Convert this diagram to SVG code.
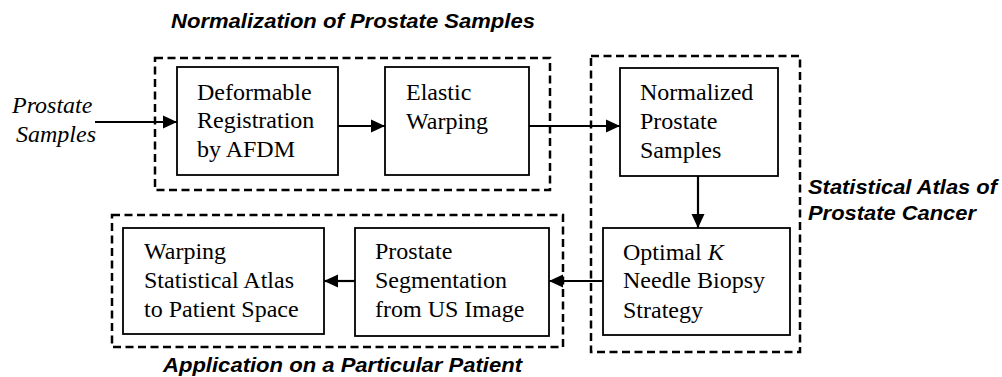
<svg xmlns="http://www.w3.org/2000/svg" width="1002" height="377" viewBox="0 0 1002 377">
<style>
.bg{fill:#fff}
.box{fill:#fff;stroke:#000;stroke-width:1.8}
.grp{fill:none;stroke:#000;stroke-width:2.5;stroke-dasharray:8 4.5}
.t{font-family:"Liberation Serif","Times New Roman",serif;font-size:24px;fill:#000}
.ti{font-family:"Liberation Serif","Times New Roman",serif;font-size:24px;font-style:italic;fill:#000}
.lab{font-family:"Liberation Sans",Arial,sans-serif;font-size:21px;font-weight:bold;font-style:italic;fill:#000}
.con{fill:none;stroke:#000;stroke-width:2.2}
</style>
<defs>
<marker id="ah" viewBox="0 0 14 14" refX="14" refY="7" markerWidth="14" markerHeight="14" markerUnits="userSpaceOnUse" orient="auto">
<path d="M0,0.5 L14,7 L0,13.5 z" fill="#000"/>
</marker>
</defs>
<rect class="bg" x="0" y="0" width="1002" height="377"/>
<g id="group-normalization">
<rect class="grp" x="155" y="58" width="395" height="132"/>
<text class="lab" x="171" y="28" textLength="364" lengthAdjust="spacingAndGlyphs">Normalization of Prostate Samples</text>
</g>
<g id="group-atlas">
<rect class="grp" x="591" y="56" width="209" height="296"/>
<text class="lab" x="808" y="194" textLength="189" lengthAdjust="spacingAndGlyphs">Statistical Atlas of</text>
<text class="lab" x="808" y="220" textLength="168" lengthAdjust="spacingAndGlyphs">Prostate Cancer</text>
</g>
<g id="group-application">
<rect class="grp" x="112" y="215" width="451" height="132"/>
<text class="lab" x="163" y="372" textLength="359" lengthAdjust="spacingAndGlyphs">Application on a Particular Patient</text>
</g>
<g id="input">
<text class="ti" x="12" y="113">Prostate</text>
<text class="ti" x="16" y="142">Samples</text>
</g>
<g id="node-registration">
<rect class="box" x="177" y="67" width="161" height="108"/>
<text class="t" x="197" y="100">Deformable</text>
<text class="t" x="197" y="128">Registration</text>
<text class="t" x="197" y="157">by AFDM</text>
</g>
<g id="node-warping">
<rect class="box" x="385" y="67" width="144" height="108"/>
<text class="t" x="406" y="100">Elastic</text>
<text class="t" x="406" y="129">Warping</text>
</g>
<g id="node-normalized">
<rect class="box" x="620" y="68" width="158" height="108"/>
<text class="t" x="640" y="100">Normalized</text>
<text class="t" x="640" y="129">Prostate</text>
<text class="t" x="640" y="158">Samples</text>
</g>
<g id="node-optimal">
<rect class="box" x="603" y="228" width="187" height="107"/>
<text class="t" x="623" y="260">Optimal <tspan font-style="italic">K</tspan></text>
<text class="t" x="623" y="288">Needle Biopsy</text>
<text class="t" x="623" y="318">Strategy</text>
</g>
<g id="node-segmentation">
<rect class="box" x="355" y="228" width="194" height="108"/>
<text class="t" x="375" y="259">Prostate</text>
<text class="t" x="375" y="288">Segmentation</text>
<text class="t" x="375" y="317">from US Image</text>
</g>
<g id="node-atlas-warping">
<rect class="box" x="123" y="228" width="201" height="106"/>
<text class="t" x="144" y="259">Warping</text>
<text class="t" x="144" y="288">Statistical Atlas</text>
<text class="t" x="144" y="317">to Patient Space</text>
</g>
<g id="connectors">
<line class="con" x1="95" y1="122" x2="177" y2="122" marker-end="url(#ah)"/>
<line class="con" x1="338" y1="126" x2="385" y2="126" marker-end="url(#ah)"/>
<line class="con" x1="529" y1="126" x2="620" y2="126" marker-end="url(#ah)"/>
<line class="con" x1="698" y1="176" x2="698" y2="228" marker-end="url(#ah)"/>
<line class="con" x1="603" y1="281" x2="549" y2="281" marker-end="url(#ah)"/>
<line class="con" x1="355" y1="281" x2="324" y2="281" marker-end="url(#ah)"/>
</g>
</svg>
